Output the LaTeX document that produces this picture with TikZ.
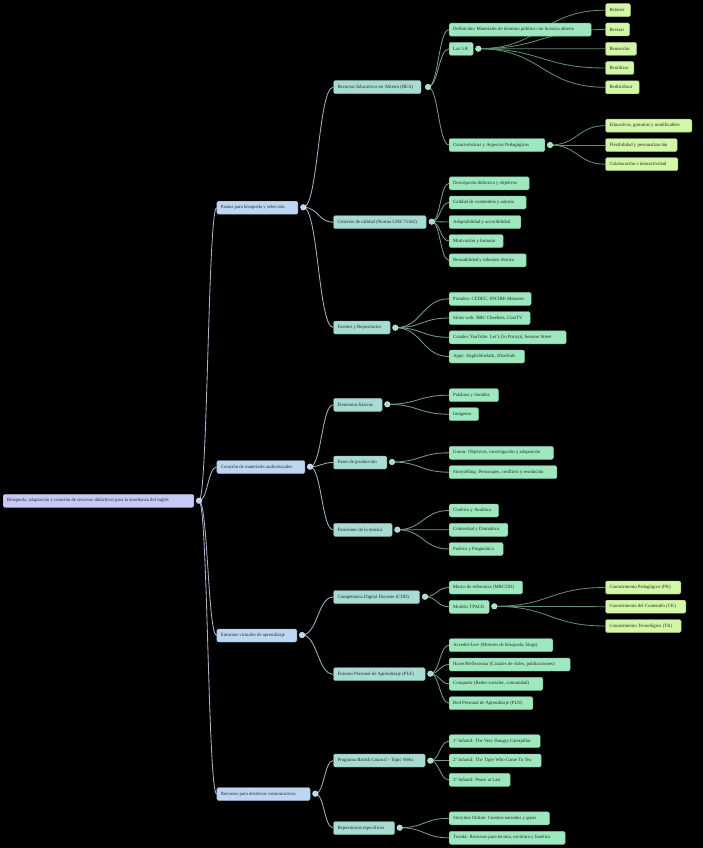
\documentclass[tikz,border=0pt]{standalone}
\usepackage{fontspec}
\setmainfont{Liberation Serif}
\usetikzlibrary{calc}
\definecolor{c0}{HTML}{C8C9F7}
\definecolor{c1}{HTML}{BDD7F3}
\definecolor{c2}{HTML}{A6DCD3}
\definecolor{c3}{HTML}{9EE8C0}
\definecolor{c4}{HTML}{D2F7A6}
\definecolor{k0}{HTML}{B0B0C8}
\definecolor{k1}{HTML}{A0B2C0}
\definecolor{k2}{HTML}{74998C}
\definecolor{k3}{HTML}{648C70}
\pgfdeclarelayer{back}
\pgfsetlayers{back,main}
\newcommand\bx[2]{\makebox[#1pt][l]{#2}}
\newcommand\conn[3]{\draw[lnk=#1] let \p1=(#2.center), \p2=(#3.west), \p3=($(\p1)!.5!(\p2)$) in (\p1) .. controls (\x3,\y1) and (\x3,\y2) .. (\p2);}
\tikzset{
  bxs/.style={fill=#1, draw=#1!80!black, line width=0.4pt, rounded corners=1.5pt, anchor=west,
    minimum height=13pt, inner xsep=4pt, inner ysep=0pt, font=\fontsize{4.8}{5.5}\selectfont, text=black!85},
  dotn/.style={circle, fill=#1, draw=white!60!#1, line width=0.5pt, inner sep=0pt, minimum size=5.5pt},
  lnk/.style={draw=#1, line width=0.85pt}
}
\begin{document}
\begin{tikzpicture}[x=1pt,y=-1pt]
\begin{pgfonlayer}{back}
\fill[black] (0,0) rectangle (703,848);
\end{pgfonlayer}
\path[use as bounding box] (0,0) rectangle (703,848);
% root
\node[bxs=c0] (root) at (3,500.8) {\bx{182.7}{Búsqueda, adaptación y creación de recursos didácticos para la enseñanza del inglés}};
\node[dotn=c0] (d0) at (199,500.7) {};
% level 1
\node[bxs=c1] (p1) at (216.7,207.7) {\bx{73}{Pautas para búsqueda y selección}};
\node[dotn=c1] (dp1) at (303.3,207.3) {};
\node[bxs=c1] (p2) at (216.7,467) {\bx{80}{Creación de materiales audiovisuales}};
\node[dotn=c1] (dp2) at (310,466.7) {};
\node[bxs=c1] (p3) at (216.7,635.5) {\bx{72}{Entornos virtuales de aprendizaje}};
\node[dotn=c1] (dp3) at (302,635) {};
\node[bxs=c1] (p4) at (216.7,794) {\bx{85.3}{Recursos para destrezas comunicativas}};
\node[dotn=c1] (dp4) at (315.3,793.7) {};
% level 2
\node[bxs=c2] (rea) at (333.3,87.2) {\bx{79.5}{Recursos Educativos en Abierto (REA)}};
\node[dotn=c2] (drea) at (428,87) {};
\node[bxs=c2] (cri) at (333.3,222.2) {\bx{84.7}{Criterios de calidad (Norma UNE 71362)}};
\node[dotn=c2] (dcri) at (431.7,221.7) {};
\node[bxs=c2] (fue) at (333.3,327.5) {\bx{48.7}{Fuentes y Repositorios}};
\node[dotn=c2] (dfue) at (395.3,327.7) {};
\node[bxs=c2] (ele) at (333.3,404.8) {\bx{40.7}{Elementos básicos}};
\node[dotn=c2] (dele) at (387.3,404.3) {};
\node[bxs=c2] (fas) at (333.3,462.5) {\bx{45.4}{Fases de producción}};
\node[dotn=c2] (dfas) at (392,462) {};
\node[bxs=c2] (fun) at (333.3,529.8) {\bx{50.7}{Funciones de la música}};
\node[dotn=c2] (dfun) at (397.3,529.7) {};
\node[bxs=c2] (cdd) at (333.3,597) {\bx{78}{Competencia Digital Docente (CDD)}};
\node[dotn=c2] (dcdd) at (425,596.7) {};
\node[bxs=c2] (ple) at (333.3,674.2) {\bx{83.7}{Entorno Personal de Aprendizaje (PLE)}};
\node[dotn=c2] (dple) at (430.3,673.7) {};
\node[bxs=c2] (bc) at (333.3,760.5) {\bx{83.7}{Programa British Council - Topic Webs}};
\node[dotn=c2] (dbc) at (430.3,760.7) {};
\node[bxs=c2] (rep) at (333.3,828) {\bx{53}{Repositorios específicos}};
\node[dotn=c2] (drep) at (399.7,827.7) {};
% level 3
\node[bxs=c3] (def) at (449,29.7) {\bx{134}{Definición: Materiales de dominio público con licencia abierta}};
\node[bxs=c3] (r5) at (449,48.8) {\bx{16}{Las 5 R}};
\node[dotn=c3] (dr5) at (478.3,48.7) {};
\node[bxs=c3] (car) at (449,145) {\bx{87.6}{Características y Aspectos Pedagógicos}};
\node[dotn=c3] (dcar) at (550,145) {};
\node[bxs=c3] (cr1) at (449,183.3) {\bx{72}{Descripción didáctica y objetivos}};
\node[bxs=c3] (cr2) at (449,202.5) {\bx{69}{Calidad de contenidos y autoría}};
\node[bxs=c3] (cr3) at (449,222) {\bx{63.7}{Adaptabilidad y accesibilidad}};
\node[bxs=c3] (cr4) at (449,241) {\bx{46}{Motivación y formato}};
\node[bxs=c3] (cr5) at (449,260.3) {\bx{69}{Reusabilidad y robustez técnica}};
\node[bxs=c3] (fu1) at (449,298.8) {\bx{74}{Portales: CEDEC, INCIBE-Menores}};
\node[bxs=c3] (fu2) at (449,318) {\bx{73}{Sitios web: BBC Cbeebies, ClanTV}};
\node[bxs=c3] (fu3) at (449,337.3) {\bx{109}{Canales YouTube: Let's Go Pocoyó, Sesame Street}};
\node[bxs=c3] (fu4) at (449,356.5) {\bx{67.3}{Apps: Englishforkids, iDoeKids}};
\node[bxs=c3] (el1) at (449,395.2) {\bx{41.3}{Palabras y Sonidos}};
\node[bxs=c3] (el2) at (449,414.2) {\bx{21.3}{Imágenes}};
\node[bxs=c3] (fa1) at (449,452.8) {\bx{96.3}{Guion: Objetivos, investigación y adaptación}};
\node[bxs=c3] (fa2) at (449,472.2) {\bx{99.7}{Storytelling: Personajes, conflicto y resolución}};
\node[bxs=c3] (fn1) at (449,510.5) {\bx{41.3}{Cinética y Analítica}};
\node[bxs=c3] (fn2) at (449,529.8) {\bx{50.7}{Contextual y Dramática}};
\node[bxs=c3] (fn3) at (449,549) {\bx{46}{Poética y Pragmática}};
\node[bxs=c3] (cd1) at (449,587.5) {\bx{65.3}{Marco de referencia (MRCDD)}};
\node[bxs=c3] (cd2) at (449,606.8) {\bx{32}{Modelo TPACK}};
\node[dotn=c3] (dcd2) at (494.3,606.3) {};
\node[bxs=c3] (pl1) at (449,645.2) {\bx{95.7}{Acceder/Leer (Motores de búsqueda, blogs)}};
\node[bxs=c3] (pl2) at (449,664.5) {\bx{113}{Hacer/Reflexionar (Canales de vídeo, publicaciones)}};
\node[bxs=c3] (pl3) at (449,683.8) {\bx{85.7}{Compartir (Redes sociales, comunidad)}};
\node[bxs=c3] (pl4) at (449,703.2) {\bx{75.7}{Red Personal de Aprendizaje (PLN)}};
\node[bxs=c3] (bc1) at (449,741.2) {\bx{83}{1º Infantil: The Very Hungry Caterpillar}};
\node[bxs=c3] (bc2) at (449,760.5) {\bx{84}{2º Infantil: The Tiger Who Came To Tea}};
\node[bxs=c3] (bc3) at (449,779.8) {\bx{53}{3º Infantil: Peace at Last}};
\node[bxs=c3] (re1) at (449,818.3) {\bx{92.3}{Storyline Online: Cuentos narrados y guías}};
\node[bxs=c3] (re2) at (449,837.8) {\bx{108}{Twinkl: Recursos para lectura, escritura y fonética}};
% level 4
\node[bxs=c4] (r51) at (605.3,10.2) {\bx{17}{Retener}};
\node[bxs=c4] (r52) at (605.3,29.5) {\bx{16}{Revisar}};
\node[bxs=c4] (r53) at (605.3,48.8) {\bx{23}{Remezclar}};
\node[bxs=c4] (r54) at (605.3,68) {\bx{20.3}{Reutilizar}};
\node[bxs=c4] (r55) at (605.3,87.3) {\bx{25.7}{Redistribuir}};
\node[bxs=c4] (ca1) at (605.3,125.7) {\bx{78.4}{Educativos, gratuitos y modificables}};
\node[bxs=c4] (ca2) at (605.3,145) {\bx{63.7}{Flexibilidad y personalización}};
\node[bxs=c4] (ca3) at (605.3,164.2) {\bx{64.3}{Colaboración e interactividad}};
\node[bxs=c4] (tp1) at (605.3,587.5) {\bx{67.3}{Conocimiento Pedagógico (PK)}};
\node[bxs=c4] (tp2) at (605.3,606.7) {\bx{72.3}{Conocimiento del Contenido (CK)}};
\node[bxs=c4] (tp3) at (605.3,626) {\bx{67.6}{Conocimiento Tecnológico (TK)}};
% connectors
\begin{pgfonlayer}{back}
\foreach \c in {p1,p2,p3,p4} {\conn{k0}{d0}{\c}}
\foreach \c in {rea,cri,fue} {\conn{k1}{dp1}{\c}}
\foreach \c in {ele,fas,fun} {\conn{k1}{dp2}{\c}}
\foreach \c in {cdd,ple} {\conn{k1}{dp3}{\c}}
\foreach \c in {bc,rep} {\conn{k1}{dp4}{\c}}
\foreach \c in {def,r5,car} {\conn{k2}{drea}{\c}}
\foreach \c in {cr1,cr2,cr3,cr4,cr5} {\conn{k2}{dcri}{\c}}
\foreach \c in {fu1,fu2,fu3,fu4} {\conn{k2}{dfue}{\c}}
\foreach \c in {el1,el2} {\conn{k2}{dele}{\c}}
\foreach \c in {fa1,fa2} {\conn{k2}{dfas}{\c}}
\foreach \c in {fn1,fn2,fn3} {\conn{k2}{dfun}{\c}}
\foreach \c in {cd1,cd2} {\conn{k2}{dcdd}{\c}}
\foreach \c in {pl1,pl2,pl3,pl4} {\conn{k2}{dple}{\c}}
\foreach \c in {bc1,bc2,bc3} {\conn{k2}{dbc}{\c}}
\foreach \c in {re1,re2} {\conn{k2}{drep}{\c}}
\foreach \c in {r51,r52,r53,r54,r55} {\conn{k3}{dr5}{\c}}
\foreach \c in {ca1,ca2,ca3} {\conn{k3}{dcar}{\c}}
\foreach \c in {tp1,tp2,tp3} {\conn{k3}{dcd2}{\c}}
\end{pgfonlayer}
\end{tikzpicture}
\end{document}
